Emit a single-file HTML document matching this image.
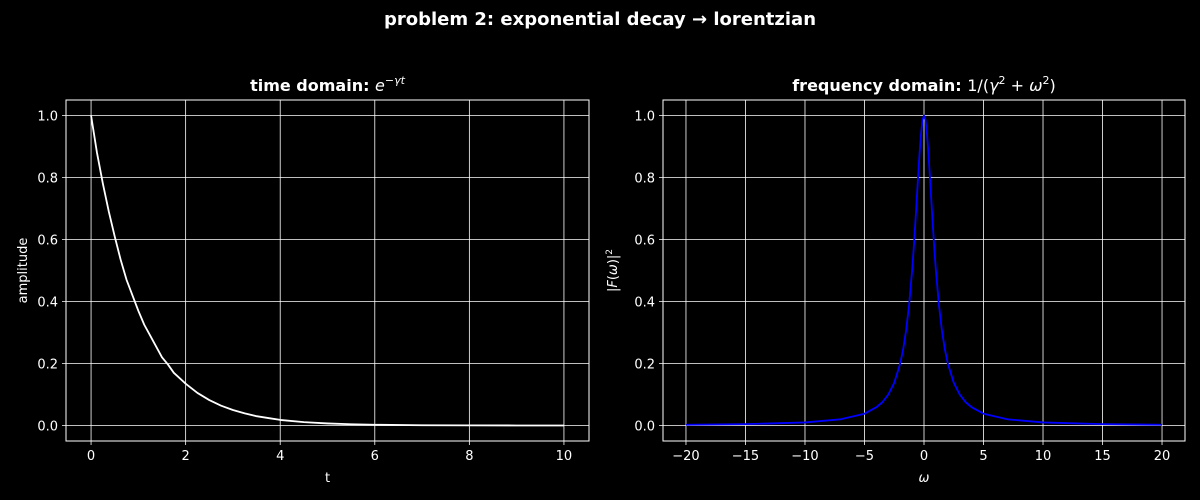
<!DOCTYPE html>
<html><head><meta charset="utf-8">
<style>
html,body{margin:0;padding:0;background:#000;}
svg{display:block;font-family:"DejaVu Sans","Liberation Sans",sans-serif;}
</style></head>
<body>
<svg id="c" width="1200" height="500" viewBox="0 0 1200 500">
<rect width="1200" height="500" fill="#000"/>
<text x="600" y="25" fill="#fff" font-size="18" font-weight="bold" text-anchor="middle">problem 2: exponential decay → lorentzian</text>
<g id="left"></g>
<g id="right"></g>
</svg>
<script>
// time-domain data
const tVals = [0,0.125,0.25,0.375,0.5,0.625,0.75,0.875,1,1.125,1.25,1.375,1.5,1.625,1.75,2,2.25,2.5,2.75,3,3.25,3.5,3.75,4,4.5,5,5.5,6,7,8,9,10];
const ampVals = [1,0.88,0.78,0.69,0.61,0.535,0.47,0.42,0.37,0.325,0.29,0.255,0.22,0.197,0.17,0.135,0.105,0.082,0.064,0.05,0.039,0.030,0.024,0.018,0.011,0.0067,0.004,0.0025,0.0009,0.0003,0.0001,0.00005];
const leftXTicks = [0,2,4,6,8,10];
// frequency-domain data
const omegaVals = [-20,-15,-10,-7,-5,-4,-3.5,-3,-2.5,-2,-1.75,-1.5,-1.25,-1,-0.875,-0.75,-0.625,-0.5,-0.375,-0.25,-0.125,0,0.125,0.25,0.375,0.5,0.625,0.75,0.875,1,1.25,1.5,1.75,2,2.5,3,3.5,4,5,7,10,15,20];
const powerVals = [0.0025,0.0044,0.0099,0.02,0.038,0.059,0.075,0.1,0.138,0.2,0.246,0.308,0.39,0.5,0.566,0.64,0.719,0.8,0.877,0.94,0.985,1,0.985,0.94,0.877,0.8,0.719,0.64,0.566,0.5,0.39,0.308,0.246,0.2,0.138,0.1,0.075,0.059,0.038,0.02,0.0099,0.0044,0.0025];
const rightXTicks = [-20,-15,-10,-5,0,5,10,15,20];
const yTicks = [0.0,0.2,0.4,0.6,0.8,1.0];

const NS="http://www.w3.org/2000/svg";
function mk(parent,tag,attrs,text){const e=document.createElementNS(NS,tag);for(const k in attrs)e.setAttribute(k,attrs[k]);if(text!==undefined)e.textContent=text;parent.appendChild(e);return e;}

function panel(g,box,xdom,xTicks,xs,ys,color,fmtX,titleParts,xlabel,ylabel,prefix){
  const [L,R,T,B]=box;
  const xS=v=>L+(v-xdom[0])/(xdom[1]-xdom[0])*(R-L);
  const yS=v=>B-(v+0.05)/1.1*(B-T);
  xTicks.forEach(v=>{
    const l=mk(g,'line',{x1:xS(v),x2:xS(v),y1:T,y2:B+4,stroke:'#fff','stroke-width':0.8});
    
    
    const t=mk(g,'text',{x:xS(v),y:B+19,fill:'#fff','font-size':13,'text-anchor':'middle'},fmtX(v));
    
    
  });
  yTicks.forEach(v=>{
    const l=mk(g,'line',{x1:L-4,x2:R,y1:yS(v),y2:yS(v),stroke:'#fff','stroke-width':0.8});
    
    
    const t=mk(g,'text',{x:L-8,y:yS(v)+5,fill:'#fff','font-size':13,'text-anchor':'end'},v.toFixed(1));
    
    
  });
  const fr=mk(g,'rect',{x:L,y:T,width:R-L,height:B-T,fill:'none',stroke:'#fff','stroke-width':1});
  
  
  const pts=xs.map((x,i)=>xS(x).toFixed(2)+','+yS(ys[i]).toFixed(2)).join(' ');
  const pl=mk(g,'polyline',{points:pts,fill:'none',stroke:color,'stroke-width':1.8,'stroke-linejoin':'round'});
  
  
  const tt=mk(g,'text',{x:(L+R)/2,y:T-9,fill:'#fff','font-size':16,'text-anchor':'middle'});
  
  
  tt.innerHTML=titleParts;
  const xl=mk(g,'text',{x:(L+R)/2,y:B+41,fill:'#fff','font-size':13,'text-anchor':'middle','font-style':prefix==='freq'?'italic':'normal'},xlabel);
  
  
  const yl=mk(g,'text',{x:0,y:0,fill:'#fff','font-size':13,'text-anchor':'middle',transform:`translate(${prefix==='time'?27:617},${(T+B)/2}) rotate(-90)`});
  
  
  yl.innerHTML=ylabel;
}
panel(document.getElementById('left'),[66,589,100,441],[-0.53,10.53],leftXTicks,tVals,ampVals,'#fff',v=>String(v),
 '<tspan font-weight="bold">time domain: </tspan><tspan font-style="italic">e</tspan><tspan font-size="11" dy="-7" font-style="italic">−γt</tspan>','t','amplitude','time');
panel(document.getElementById('right'),[663,1185,100,441],[-21.93,21.93],rightXTicks,omegaVals,powerVals,'#0000ff',v=>v<0?'−'+(-v):String(v),
 '<tspan font-weight="bold">frequency domain: </tspan><tspan>1/(</tspan><tspan font-style="italic">γ</tspan><tspan font-size="11" dy="-7">2</tspan><tspan dy="7"> + </tspan><tspan font-style="italic">ω</tspan><tspan font-size="11" dy="-7">2</tspan><tspan dy="7">)</tspan>','ω',
 '|<tspan font-style="italic">F</tspan>(<tspan font-style="italic">ω</tspan>)|<tspan font-size="9" dy="-5">2</tspan>','freq');
</script>
</body></html>
